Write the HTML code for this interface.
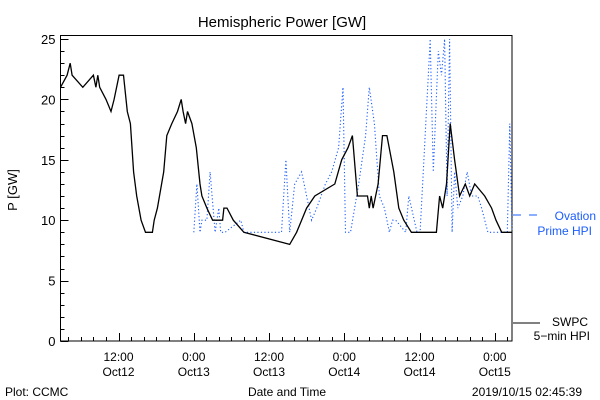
<!DOCTYPE html>
<html><head><meta charset="utf-8"><style>
html,body{margin:0;padding:0;background:#fff;}
svg{display:block;font-family:"Liberation Sans",sans-serif;}
</style></head><body>
<svg id="chart" width="600" height="400" viewBox="0 0 600 400" xmlns="http://www.w3.org/2000/svg">
<rect x="0" y="0" width="600" height="400" fill="#fff"/>
<text x="282" y="27" font-size="15" text-anchor="middle" fill="#000">Hemispheric Power [GW]</text>
<text x="0" y="0" font-size="13" text-anchor="middle" transform="translate(17,190) rotate(-90)" fill="#000">P [GW]</text>
<rect x="60.5" y="35.5" width="451.5" height="305.5" fill="none" stroke="#000" stroke-width="1"/>
<g id="yaxis"></g>
<g id="xaxis"></g>
<g id="series"></g>
<text x="287" y="396" font-size="12" text-anchor="middle" fill="#000">Date and Time</text>
<text x="5" y="396" font-size="12" fill="#000">Plot: CCMC</text>
<text x="582" y="396" font-size="12" text-anchor="end" fill="#000">2019/10/15 02:45:39</text>
<g>
<line x1="513" y1="215" x2="521" y2="215" stroke="#1a5cff" stroke-width="1"/>
<line x1="529" y1="215" x2="537" y2="215" stroke="#1a5cff" stroke-width="1"/>
<text x="596" y="220" font-size="12" text-anchor="end" fill="#1a5cff">Ovation</text>
<text x="592" y="235" font-size="12" text-anchor="end" fill="#1a5cff">Prime HPI</text>
</g>
<g>
<line x1="513" y1="323" x2="540" y2="323" stroke="#000" stroke-width="1"/>
<text x="588" y="326" font-size="12" text-anchor="end" fill="#000">SWPC</text>
<text x="590" y="340" font-size="12" text-anchor="end" fill="#000">5−min HPI</text>
</g>
</svg>
<script>
// hours since Oct12 00:00
const swpcHours=[2.75,3.8,4.3,4.6,6.3,8.0,8.4,8.7,9.0,10,10.8,11.3,12.1,12.8,13.4,13.9,14.4,14.9,15.6,16.3,17.4,17.7,18.2,19.2,19.7,20.5,21.4,22.0,22.3,22.7,23.0,23.7,24.4,25.0,25.3,26.1,27.0,28.6,28.8,29.3,30.3,32.0,39.3,40.4,41.2,42.0,43.3,46.5,47.6,48.6,49.3,50.1,51.7,52.0,52.3,52.6,53.4,54.1,54.8,55.9,56.7,57.5,58.7,62.7,63.2,63.7,64.3,64.9,65.6,66.4,67.3,68.0,68.8,70.4,71.5,72.2,73.1,74.75];
const swpcValues=[21,22,23,22,21,22,21,22,21,20,19,20,22,22,19,18,14,12,10,9,9,10,11,14,17,18,19,20,19,18,19,18,16,13,12,11,10,10,11,11,10,9,8,9,10,11,12,13,15,16,17,12,12,11,12,11,13,17,17,14,11,10,9,9,12,11,13,18,15,12,13,12,13,12,11,10,9,9];
const ovationHours=[24.0,24.5,25.0,25.3,26.1,26.6,27.4,28.0,28.3,28.6,29.0,31.5,32.0,38.0,38.7,39.3,40.1,41.2,42.0,42.8,43.6,45.0,46.0,47.1,47.8,48.2,49.0,50.3,51.4,52.0,52.8,53.6,54.4,55.2,55.7,56.2,57.8,58.3,59.6,60.1,61.7,62.2,63.0,63.5,64.0,64.4,64.8,65.2,65.6,66.1,66.9,67.6,68.3,69.3,69.9,70.9,73.0,74.0,74.4,74.75];
const ovationValues=[9,13,9,10,10,14,9,11,9,9,9,10,9,9,15,9,13,14,12,10,11,13,14,16,21,9,9,13,17,21,18,12,11,9,10,10,9,12,9,9,25,14,24,22,25,12,25,9,14,11,12,14,12,12,11,9,9,9,18,9];
const yTicks=[0,5,10,15,20,25];
const xTickHours=[12,24,36,48,60,72];
const xTickLabels=[["12:00","Oct12"],["0:00","Oct13"],["12:00","Oct13"],["0:00","Oct14"],["12:00","Oct14"],["0:00","Oct15"]];

const NS="http://www.w3.org/2000/svg";
const X0=60.5,X1=512,Y0=341,pxPerGW=12.08,H0=2.75,H1=74.75;
function xs(h){return X0+(h-H0)*(X1-X0)/(H1-H0);}
function ys(v){return Y0-v*pxPerGW;}
function mk(tag,attrs,parent){const e=document.createElementNS(NS,tag);for(const k in attrs)e.setAttribute(k,attrs[k]);parent.appendChild(e);return e;}
const ya=document.getElementById('yaxis'),xa=document.getElementById('xaxis'),sg=document.getElementById('series');
for(let v=0;v<=25;v++){
  const y=Math.round(ys(v))+0.5;const major=v%5===0;
  const t=mk('line',{x1:X0,x2:X0+(major?8:4),y1:y,y2:y,stroke:'#000'},ya);
  
  
}
yTicks.forEach(v=>{
  const t=mk('text',{x:X0-5,y:ys(v)+5,'font-size':13,'text-anchor':'end',fill:'#000'},ya);
  
  
  t.textContent=v;
});
for(let h=4;h<=74;h+=2){
  const x=Math.round(xs(h))+0.5;const major=xTickHours.indexOf(h)>=0;
  const t=mk('line',{x1:x,x2:x,y1:Y0,y2:Y0-(major?8:4),stroke:'#000'},xa);
  
  
}
xTickHours.forEach((h,i)=>{
  [0,1].forEach(j=>{
    const t=mk('text',{x:xs(h),y:361+j*15,'font-size':12,'text-anchor':'middle',fill:'#000'},xa);
    
    
    t.textContent=xTickLabels[i][j];
  });
});
function linPts(hs,vs){return hs.map((h,i)=>xs(h).toFixed(1)+','+ys(vs[i]).toFixed(1)).join(' ');}
const ov=mk('polyline',{points:linPts(ovationHours,ovationValues),fill:'none',stroke:'#1a5cff','stroke-width':1.1,'stroke-dasharray':'1.2 2.3'},sg);


const sw=mk('polyline',{points:linPts(swpcHours,swpcValues),fill:'none',stroke:'#000','stroke-width':1.3},sg);


</script>
</body></html>
